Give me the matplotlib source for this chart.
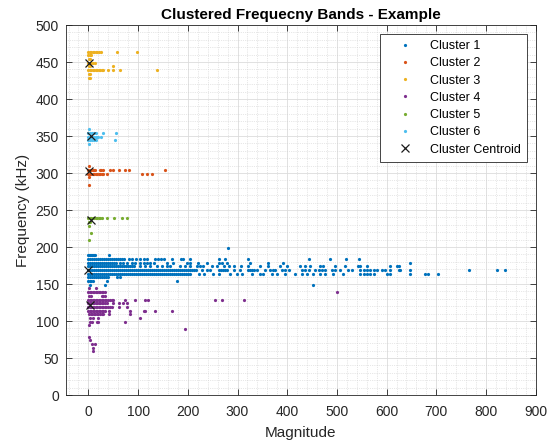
import matplotlib
matplotlib.use("Agg")
import matplotlib.pyplot as plt
from matplotlib.ticker import MultipleLocator

plt.rcParams['font.family'] = ['Liberation Sans', 'DejaVu Sans']

# ---------------- data ----------------
# Each cluster: frequency rows (kHz) and the magnitudes of the points in each row
c1_rows = [199, 189, 184, 179, 174, 169, 164, 159, 154, 149]
c1_mags = [
    [280],
    [0, 2, 4, 6, 8, 10, 12, 14, 42],
    [0, 4, 8, 12, 16, 20, 24, 28, 32, 36, 40, 44, 48, 52, 56, 60, 64, 68, 72,
     81, 88, 95, 104, 111, 117, 134, 140, 147, 152, 168, 186, 190, 205, 262,
     275, 322, 443, 486, 518, 545],
    [0, 4, 8, 12, 16, 20, 24, 28, 32, 36, 40, 44, 48, 52, 56,
     64, 70, 77, 87, 94, 104, 111, 118, 124, 131, 158, 171, 198, 205, 221,
     238, 262, 268, 278, 325, 362, 392, 647],
    [0, 4, 8, 12, 16, 20, 24, 28, 32, 36, 40, 44, 48, 52, 56, 60, 64, 68, 72,
     76, 80, 84, 88, 92,
     104, 114, 124, 138, 148, 158, 164, 185, 195, 205, 218, 225, 231, 248,
     258, 272, 282, 292, 308, 322, 345, 362, 386, 399, 426, 436, 446, 466,
     473, 496, 517, 543, 547, 560, 607, 621, 624],
    [0, 4, 8, 12, 16, 20, 24, 28, 32, 36, 40, 44, 48, 52, 56, 60, 64, 68, 72,
     76, 80, 84, 88, 92, 96, 100, 104, 108, 112, 116, 120, 124, 128, 132,
     136, 140, 144, 148, 152, 156, 160, 164, 168, 172, 176, 180, 184, 188,
     192, 196, 200, 204, 208, 212, 216,
     228, 238, 245, 262, 266, 270, 274, 278, 293, 305, 322, 326, 330, 334,
     339, 356, 366, 371, 376, 389, 396, 403, 429, 436, 443, 456, 463, 470,
     476, 490, 496, 506, 523, 530, 547, 554, 560, 567, 574, 580, 590, 597,
     607, 624, 627, 647, 765, 822, 838],
    [0, 4, 8, 12, 16, 20, 24, 28, 32, 36, 40, 44, 48, 52, 56, 60, 64, 68, 72,
     76, 80, 84, 88, 92, 96, 100, 104, 108, 112, 116, 120, 124, 128, 132,
     136, 140, 144, 148, 152, 156, 160, 164, 168, 172, 176, 180, 184, 188,
     192, 196, 200, 204,
     222, 232, 250, 262, 285, 298, 310, 330, 345, 352, 370, 380, 395, 415,
     430, 440, 451, 466, 476, 493, 513, 547, 554, 560, 567, 574, 600, 607,
     647, 678, 684, 704],
    [0, 4, 8, 12, 16, 20, 24, 28, 31, 36, 40, 57, 64],
    [0, 3, 6, 9, 37, 178],
    [4, 34, 452],
]

c2_rows = [309, 304, 299, 294, 284]
c2_mags = [
    [1],
    [0, 3, 6, 9, 12, 14, 23, 26, 29, 43, 50, 62, 74, 81, 154],
    [0, 3, 6, 9, 12, 15, 18, 21, 24, 27, 29, 37, 108, 118, 128],
    [1],
    [1],
]

c3_rows = [464, 459, 454, 449, 444, 439, 434, 429]
c3_mags = [
    [0, 3, 6, 9, 12, 15, 18, 21, 25, 57, 97],
    [0, 3, 6],
    [1, 3],
    [0, 3, 6, 9, 13],
    [1, 3, 50],
    [0, 3, 6, 9, 12, 15, 18, 21, 24, 27, 29, 40, 50, 64, 138],
    [1, 4],
    [1, 3],
]

c4_rows = [144, 139, 134, 129, 124, 119, 114, 109, 104, 99, 94, 89, 79, 74, 69, 64, 59]
c4_mags = [
    [2, 15],
    [0, 3, 6, 9, 12, 15, 18, 21, 24, 27, 30, 33, 500],
    [2, 6, 27, 30, 33],
    [0, 3, 6, 9, 12, 15, 18, 21, 24, 27, 30, 33, 36, 40, 44, 47, 50, 74, 94,
     114, 119, 255, 268, 313],
    [0, 3, 6, 9, 12, 15, 18, 21, 24, 27, 30, 33, 37, 50, 62, 70, 77],
    [0, 3, 6, 9, 12, 15, 18, 21, 24, 27, 30, 33, 36, 40, 44, 47, 62, 77],
    [0, 3, 6, 9, 12, 15, 18, 21, 24, 27, 30, 33, 42, 84, 111, 114, 134, 169],
    [2, 5, 8, 11, 14, 17, 20, 24, 27, 30, 42, 84],
    [4, 10, 20, 104],
    [4, 8, 17, 20, 74],
    [2],
    [195],
    [1],
    [4],
    [8, 13],
    [10],
    [10],
]

c5_rows = [239, 234, 229, 219, 209]
c5_mags = [
    [0, 3, 6, 9, 12, 15, 18, 21, 24, 27, 37, 51, 67, 77],
    [1, 4],
    [1],
    [6],
    [1],
]

c6_rows = [359, 354, 349, 344, 339]
c6_mags = [
    [1],
    [0, 4, 8, 12, 16, 30, 56],
    [0, 3, 6, 9, 12, 15, 18, 20, 26],
    [0, 4, 8, 12, 16, 53],
    [1],
]

centroid_mag = [0, 2, 2, 3, 5, 5]
centroid_freq = [169, 303, 449, 121, 237, 350]

cluster_labels = ['Cluster 1', 'Cluster 2', 'Cluster 3', 'Cluster 4',
                  'Cluster 5', 'Cluster 6']
cluster_colors = ['#0072BD', '#D95319', '#EDB120', '#7E2F8E', '#77AC30', '#4DBEEE']

clusters = [(c1_rows, c1_mags), (c2_rows, c2_mags), (c3_rows, c3_mags),
            (c4_rows, c4_mags), (c5_rows, c5_mags), (c6_rows, c6_mags)]

# ---------------- plotting ----------------
fig = plt.figure(figsize=(5.47, 4.41), dpi=100)
ax = fig.add_axes([0.1207, 0.1043, 0.8587, 0.839])

for (rows, mags), lab, col in zip(clusters, cluster_labels, cluster_colors):
    xs, ys = [], []
    for f, ms in zip(rows, mags):
        xs.extend(ms)
        ys.extend([f] * len(ms))
    ax.plot(xs, ys, linestyle='none', marker='o', markersize=2.3,
            markeredgewidth=0, color=col, label=lab)

ax.plot(centroid_mag, centroid_freq, linestyle='none', marker='x',
        markersize=5.5, markeredgewidth=0.9, color='#1a1a1a',
        label='Cluster Centroid')

ax.set_xlim(-45, 900)
ax.set_ylim(0, 500)
ax.xaxis.set_major_locator(MultipleLocator(100))
ax.yaxis.set_major_locator(MultipleLocator(50))
ax.xaxis.set_minor_locator(MultipleLocator(20))
ax.yaxis.set_minor_locator(MultipleLocator(10))

ax.grid(True, which='major', color='#dcdcdc', linewidth=0.6, linestyle='-')
ax.grid(True, which='minor', color='#d0d0d0', linewidth=0.5, linestyle=':')
ax.set_axisbelow(True)

ax.tick_params(which='major', direction='in', length=4, width=0.6,
               top=True, right=True, labelsize=10, colors='#262626')
ax.tick_params(axis='x', which='major', pad=7)
ax.tick_params(axis='y', which='major', pad=5)
ax.tick_params(which='minor', length=0, top=True, right=True)
for s in ax.spines.values():
    s.set_color('#262626')
    s.set_linewidth(0.6)

ax.set_xlabel('Magnitude', fontsize=11, color='#262626', labelpad=5)
ax.set_ylabel('Frequency (kHz)', fontsize=11, color='#262626', labelpad=4)
ax.set_title('Clustered Frequecny Bands - Example', fontsize=11,
             fontweight='bold', color='black', pad=4)

leg = ax.legend(loc='upper right', fontsize=9, frameon=True, fancybox=False,
                framealpha=1, edgecolor='#262626', borderpad=0.5,
                handlelength=3.0, handletextpad=0.5, labelspacing=0.42,
                markerscale=1.0, borderaxespad=0.7)
leg.get_frame().set_linewidth(0.6)

fig.savefig('out.png', dpi=100)
